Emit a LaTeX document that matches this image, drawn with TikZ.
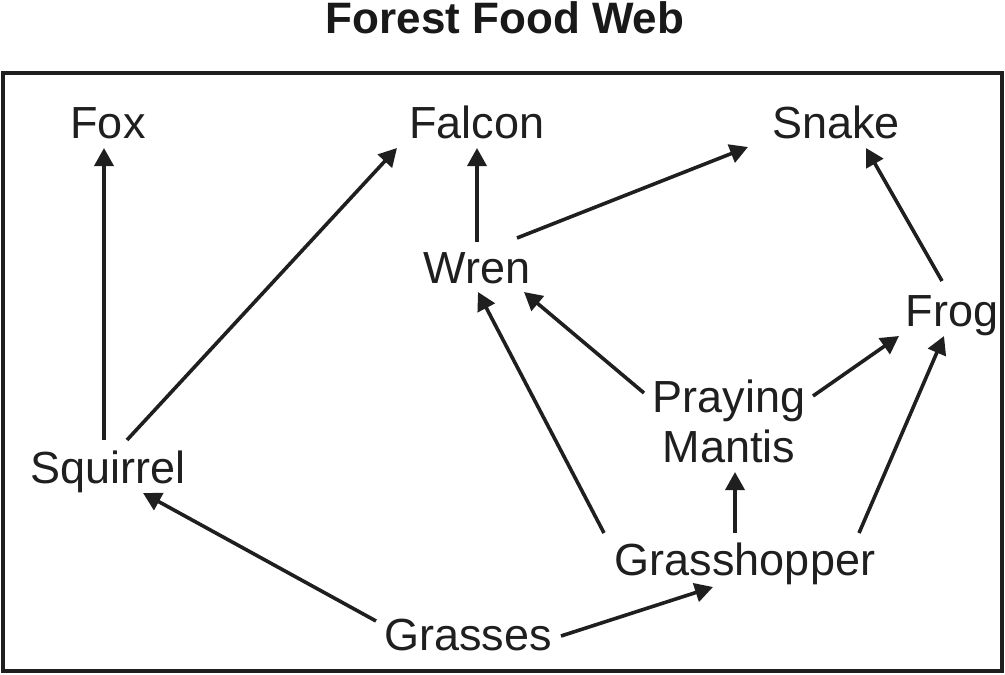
\documentclass[tikz,border=0pt]{standalone}
\usepackage{fontspec}
\setmainfont{Liberation Sans}
\usetikzlibrary{arrows.meta,calc}

\begin{document}
\begin{tikzpicture}[x=1pt, y=-1pt,
        animal/.style={anchor=base, inner sep=0pt, font=\fontsize{45}{50}\selectfont, text=black!88},
        feeds/.style={-{Triangle[length=18pt, width=19pt]}, line width=3.6pt, draw=black!88, fill=black!88}]
            \useasboundingbox (0,0) rectangle (1005,675);

            \node[anchor=base, inner sep=0pt, font=\fontsize{44}{48}\bfseries\selectfont, text=black!90] (title) at (505,33) {Forest Food Web};
            \draw[black!88, line width=3.8pt] (3,73) rectangle (1002,671);

            \node[animal] (fox) at (108,138) {Fox};
            \node[animal] (falcon) at (477,138) {Falcon};
            \node[animal] (snake) at (836,138) {Snake};
            \node[animal] (wren) at (477,283) {Wren};
            \node[animal] (frog) at (952,326) {Frog};
            \node[animal, anchor=center, align=center] (mantis) at (729,421) {Praying\\Mantis};
            \node[animal] (squirrel) at (108,483) {Squirrel};
            \node[animal] (grasshopper) at (745,575) {Grasshopper};
            \node[animal] (grasses) at (468,650) {Grasses};

            \draw[feeds] ($(squirrel.base)+(-4,-43)$) -- ($(fox.base)+(-4,10)$);
            \draw[feeds] ($(squirrel.base)+(19,-43)$) -- ($(falcon.base)+(-80,10)$);
            \draw[feeds] ($(wren.base)+(0,-41)$) -- ($(falcon.base)+(0,10)$);
            \draw[feeds] ($(wren.base)+(40,-45)$) -- ($(snake.base)+(-88,9)$);
            \draw[feeds] ($(frog.base)+(-10,-45)$) -- ($(snake.base)+(30,10)$);
            \draw[feeds] ($(mantis.center)+(-85,-28)$) -- ($(wren.base)+(47,9)$);
            \draw[feeds] ($(grasshopper.base)+(-141,-42)$) -- ($(wren.base)+(1,9)$);
            \draw[feeds] ($(mantis.center)+(84,-25)$) -- ($(frog.base)+(-53,10)$);
            \draw[feeds] ($(grasshopper.base)+(114,-42)$) -- ($(frog.base)+(-8,10)$);
            \draw[feeds] ($(grasshopper.base)+(-10,-42)$) -- ($(mantis.center)+(6,51)$);
            \draw[feeds] ($(grasses.base)+(93,-14)$) -- ($(grasshopper.base)+(-32,12)$);
            \draw[feeds] ($(grasses.base)+(-92,-29)$) -- ($(squirrel.base)+(35,10)$);
        \end{tikzpicture}
\end{document}
